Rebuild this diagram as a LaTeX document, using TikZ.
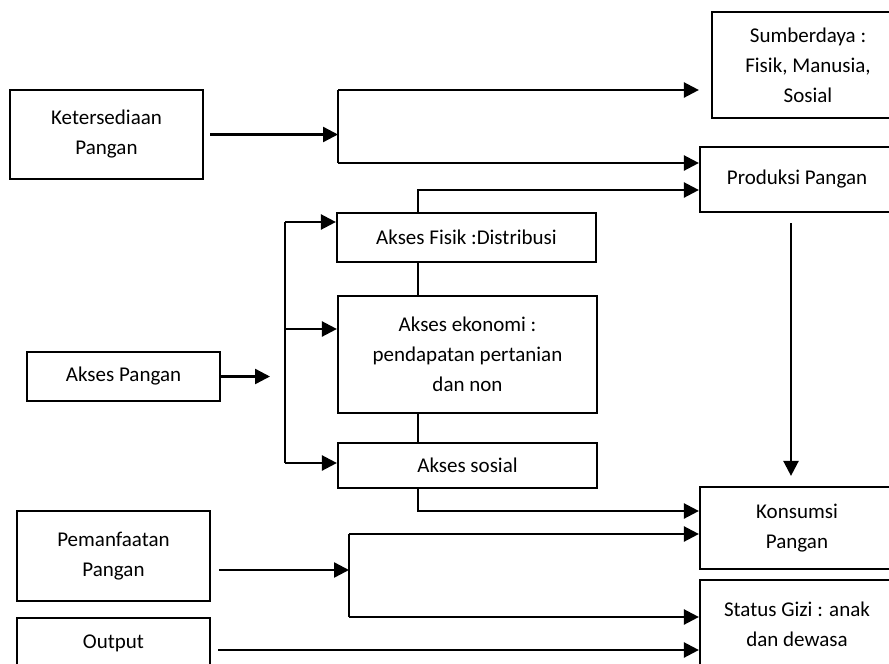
\documentclass[tikz,border=0pt]{standalone}
\usepackage{fontspec}
\setmainfont{Carlito}
\usepackage{tikz}
\usetikzlibrary{arrows.meta, calc}

\begin{document}
\begin{tikzpicture}[
  x=1pt, y=-1pt,
  box/.style={rectangle, draw, line width=2.2pt, inner sep=0pt, align=center, font=\fontsize{21}{30}\selectfont},
  line/.style={line width=2.4pt},
  arrow/.style={line width=2.4pt, -{Triangle[length=15pt, width=15pt]}}
]
  \clip (0,0) rectangle (889,664);
  \fill[white] (0,0) rectangle (889,664);

  % boxes
  \node[box, minimum width=193pt, minimum height=89pt] (ket) at (106.5,134.5) {Ketersediaan\\Pangan};
  \node[box, minimum width=192pt, minimum height=106pt] (sumber) at (808,65) {Sumberdaya :\\Fisik, Manusia,\\Sosial};
  \node[box, minimum width=194pt, minimum height=65pt] (prod) at (797,179.5) {Produksi Pangan};
  \node[box, minimum width=259pt, minimum height=49pt] (fisik) at (466.5,237.5) {Akses Fisik :Distribusi};
  \node[box, minimum width=259pt, minimum height=117pt] (eko) at (467.5,354.5) {Akses ekonomi :\\pendapatan pertanian\\dan non};
  \node[box, minimum width=259pt, minimum height=45pt] (sosial) at (467.5,465.5) {Akses sosial};
  \node[box, minimum width=193pt, minimum height=49pt] (apangan) at (123.5,376.5) {Akses Pangan};
  \node[box, minimum width=194pt, minimum height=82pt] (kons) at (797,528) {Konsumsi\\Pangan};
  \node[box, minimum width=194pt, minimum height=88pt] (gizi) at (797,624) {Status Gizi : anak\\dan dewasa};
  \node[box, minimum width=193pt, minimum height=90pt] (pman) at (113.5,556) {Pemanfaatan\\Pangan};
  \node[box, minimum width=193pt, minimum height=50pt] (outp) at (113.5,643) {Output};

  % junction points
  \coordinate (kt) at (338,90);
  \coordinate (kb) at (338,163);
  \coordinate (ax) at (418,190);
  \coordinate (sx) at (418,511);
  \coordinate (b1) at (285,222);
  \coordinate (b2) at (285,329);
  \coordinate (b3) at (285,463);
  \coordinate (ap) at (270,378);
  \coordinate (pt) at (349,534);
  \coordinate (pb) at (349,617);
  \coordinate (pm) at (349,570);
  \coordinate (oa) at (218,650);

  % ketersediaan
  \draw[arrow, shorten <=6pt] (ket.east) -- (ket.east -| kt);
  \draw[line] (kt) -- (kb);
  \draw[arrow, shorten >=12pt] (kt) -- (kt -| sumber.west);
  \draw[arrow] (kb) -- (kb -| prod.west);

  % akses
  \draw[arrow] (fisik.north -| ax) |- (prod.west |- ax);
  \draw[line] (fisik.south -| ax) -- (eko.north -| ax);
  \draw[line] (eko.south -| ax) -- (sosial.north -| ax);
  \draw[arrow] (sosial.south -| ax) |- (kons.west |- sx);
  \draw[arrow] (apangan.east) -- (ap |- apangan.east);
  \draw[line] (b1) -- (b3);
  \draw[arrow] (b1) -- (b1 -| fisik.west);
  \draw[arrow] (b2) -- (b2 -| eko.west);
  \draw[arrow] (b3) -- (b3 -| sosial.west);

  % produksi ke konsumsi
  \draw[arrow, shorten <=10pt, shorten >=10pt] ([xshift=-6pt]prod.south) -- ([xshift=-6pt]kons.north);

  % pemanfaatan
  \draw[arrow, shorten <=8pt] (pman.east |- pm) -- (pm);
  \draw[line] (pt) -- (pb);
  \draw[arrow] (pt) -- (pt -| kons.west);
  \draw[arrow] (pb) -- (pb -| gizi.west);
  \draw[arrow] (oa) -- (oa -| gizi.west);
\end{tikzpicture}
\end{document}
